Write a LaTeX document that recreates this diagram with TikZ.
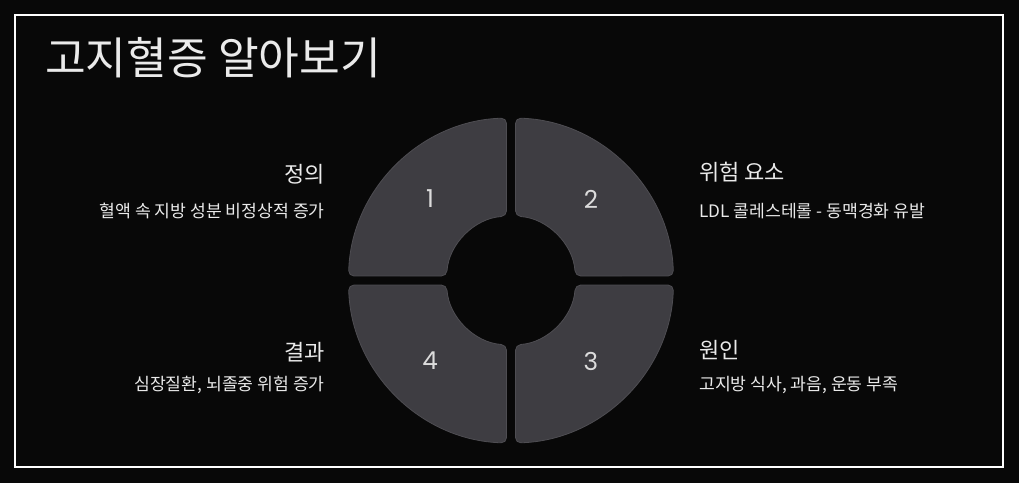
\documentclass[tikz,border=0pt]{standalone}
\usepackage{fontspec}
\setmainfont{Noto Sans CJK KR}
\newfontfamily\numfont{Poppins}
\definecolor{bgblack}{HTML}{080808}
\definecolor{segfill}{HTML}{3E3D42}
\definecolor{segline}{HTML}{4E4D52}
\definecolor{numgray}{HTML}{DCDCDC}
\definecolor{txtwhite}{HTML}{EAEAEA}

\begin{document}
\begin{tikzpicture}[x=0.75pt, y=0.75pt,
    seg/.style={fill=segfill, draw=segline, line width=0.6pt, rounded corners=4pt},
    num/.style={text=numgray, font=\numfont\fontsize{18.5}{21}\selectfont},
    head/.style={text=txtwhite, inner sep=0pt, font=\fontsize{16.5}{19}\selectfont},
    desc/.style={text=txtwhite, inner sep=0pt, font=\fontsize{12.9}{15}\selectfont},
    frame/.style={draw=white, line width=1.5pt}
  ]
    \fill[bgblack] (0,0) rectangle (1019,483);
    \useasboundingbox (0,0) rectangle (1019,483);
    \draw[frame] (15,16) rectangle (1003,468);
    \node[anchor=west, inner sep=0pt, text=txtwhite, font=\fontsize{33.2}{38}\selectfont] (title) at (45,425) {고지혈증 알아보기};

    % ring of four segments
    \coordinate (c) at (511,202.5);
    \foreach \a in {0,90,180,270}
      \draw[seg, shift={(c)}, rotate=\a] (178.41:162.5) arc[start angle=178.41, end angle=91.59, radius=162.5]
        -- (94:64.5) arc[start angle=94, end angle=176, radius=64.5] -- cycle;

    \node[num] (n1) at (430,284) {1};
    \node[num] (n2) at (591,284) {2};
    \node[num] (n3) at (591,122) {3};
    \node[num] (n4) at (430,122) {4};

    % labels
    \node[head, anchor=east] (head1) at (325,309) {정의};
    \node[desc, anchor=east] (desc1) at (325,272) {혈액 속 지방 성분 비정상적 증가};
    \node[head, anchor=west] (head2) at (699,311) {위험 요소};
    \node[desc, anchor=west] (desc2) at (699,272) {LDL 콜레스테롤 - 동맥경화 유발};
    \node[head, anchor=west] (head3) at (699,133) {원인};
    \node[desc, anchor=west] (desc3) at (699,98) {고지방 식사, 과음, 운동 부족};
    \node[head, anchor=east] (head4) at (325,131) {결과};
    \node[desc, anchor=east] (desc4) at (325,98) {심장질환, 뇌졸중 위험 증가};
  \end{tikzpicture}
\end{document}
